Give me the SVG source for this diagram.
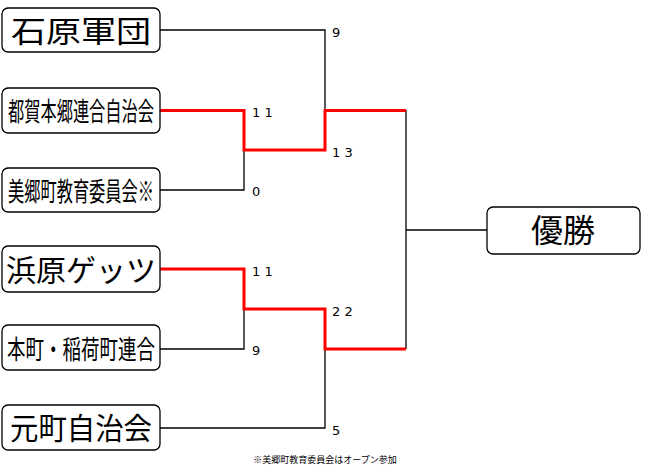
<svg xmlns="http://www.w3.org/2000/svg" width="649" height="466" viewBox="0 0 649 466">
<style>
.b{fill:#fff;stroke:#000;stroke-width:1.3}
.t{font-family:"Noto Sans CJK JP",sans-serif;fill:#000;text-anchor:middle}
.n{font-family:"DejaVu Sans",sans-serif;font-size:13px;fill:#000}
.k{fill:none;stroke:#000;stroke-width:1.3}
.r{fill:none;stroke:#f00;stroke-width:3}
</style>
<rect width="649" height="466" fill="#fff"/>
<g id="connectors">
<path class="k" d="M160 30H325V110"/>
<path class="k" d="M160 190H244V150"/>
<path class="k" d="M160 349H244V309"/>
<path class="k" d="M160 428H325V349"/>
<path class="k" d="M406 110V349M406 230H487"/>
<path class="r" d="M160 110.5H244V150H325V110.5H406"/>
<path class="r" d="M160 269H244V309H325V349H406"/>
</g>
<g id="n1"><rect class="b" x="2" y="8" width="158" height="44" rx="6"/><text class="t" x="81" y="42" font-size="30" textLength="140" lengthAdjust="spacingAndGlyphs">石原軍団</text></g>
<g id="n2"><rect class="b" x="2" y="88" width="158" height="45" rx="6"/><text class="t" x="81" y="121" font-size="26" textLength="146" lengthAdjust="spacingAndGlyphs">都賀本郷連合自治会</text></g>
<g id="n3"><rect class="b" x="2" y="168" width="158" height="44" rx="6"/><text class="t" x="81" y="201" font-size="26" textLength="146" lengthAdjust="spacingAndGlyphs">美郷町教育委員会※</text></g>
<g id="n4"><rect class="b" x="2" y="246" width="158" height="46" rx="6"/><text class="t" x="81" y="281" font-size="30" textLength="150" lengthAdjust="spacingAndGlyphs">浜原ゲッツ</text></g>
<g id="n5"><rect class="b" x="2" y="325" width="158" height="45" rx="6"/><text class="t" x="81" y="359" font-size="26" textLength="148" lengthAdjust="spacingAndGlyphs">本町・稲荷町連合</text></g>
<g id="n6"><rect class="b" x="2" y="405" width="158" height="45" rx="6"/><text class="t" x="81" y="439" font-size="30" textLength="142" lengthAdjust="spacingAndGlyphs">元町自治会</text></g>
<g id="win"><rect class="b" x="487" y="207" width="153" height="47" rx="6"/><text class="t" x="563" y="242" font-size="32">優勝</text></g>
<g id="scores">
<text class="n" x="332" y="37">9</text>
<text class="n" x="252" y="117">1 1</text>
<text class="n" x="332" y="157">1 3</text>
<text class="n" x="252" y="196">0</text>
<text class="n" x="252" y="276">1 1</text>
<text class="n" x="332" y="316">2 2</text>
<text class="n" x="252" y="355">9</text>
<text class="n" x="332" y="435">5</text>
</g>
<text class="t" x="325" y="463" font-size="9">※美郷町教育委員会はオープン参加</text>
</svg>
